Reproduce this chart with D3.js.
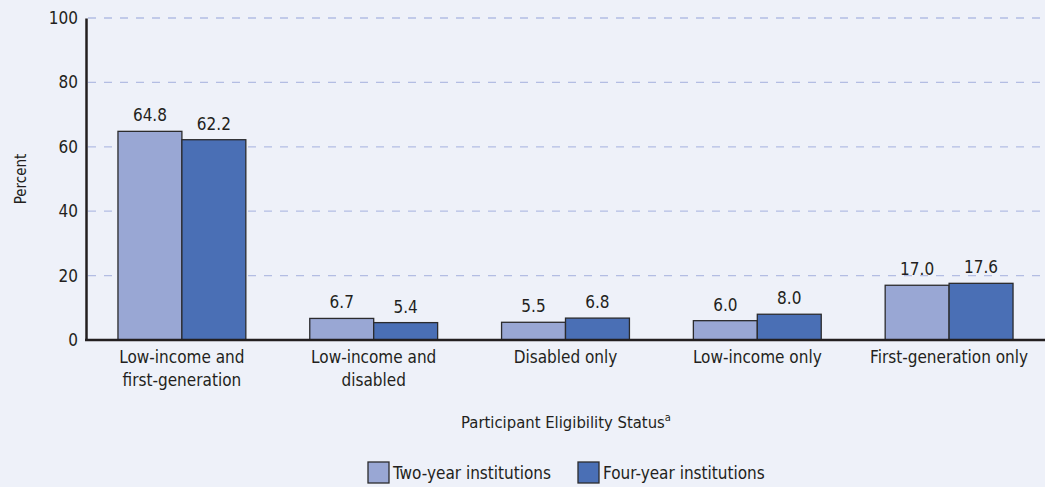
<!DOCTYPE html>
<html>
<head>
<meta charset="utf-8">
<script src="https://cdn.jsdelivr.net/npm/d3@7"></script>
<style>
  body { margin: 0; background: #eef1f9; }
  svg text { font-family: "Liberation Sans Narrow", "DejaVu Sans Condensed", "Roboto Condensed", sans-serif; fill: #231f20; }
</style>
</head>
<body>
<div id="chart"></div>
<script>
// chart data
var categories = [["Low-income and", "first-generation"], ["Low-income and", "disabled"], ["Disabled only"], ["Low-income only"], ["First-generation only"]];
var seriesNames = ["Two-year institutions", "Four-year institutions"];
var twoYear = [64.8, 6.7, 5.5, 6.0, 17.0];
var fourYear = [62.2, 5.4, 6.8, 8.0, 17.6];
var yTicks = [0, 20, 40, 60, 80, 100];
var colors = ["#99a7d4", "#4a6fb5"];

var width = 1045, height = 487;
var margin = {top: 18, right: 0, bottom: 147, left: 86};

var svg = d3.select("#chart").append("svg")
    .attr("width", width)
    .attr("height", height);

var x = d3.scaleBand()
    .domain(d3.range(categories.length))
    .range([margin.left, width])
    .paddingInner(0)
    .paddingOuter(0);

var x1 = d3.scaleBand()
    .domain([0, 1])
    .range([0, x.bandwidth()])
    .paddingOuter(0.5)
    .paddingInner(0);

var y = d3.scaleLinear()
    .domain([0, 100])
    .range([height - margin.bottom, margin.top]);

// dashed gridlines
svg.append("g").selectAll("line")
    .data(yTicks.filter(function (d) { return d > 0; }))
    .enter().append("line")
    .attr("x1", margin.left + 2)
    .attr("x2", width)
    .attr("y1", function (d) { return y(d); })
    .attr("y2", function (d) { return y(d); })
    .attr("stroke", "#b3bde3")
    .attr("stroke-width", 1.3)
    .attr("stroke-dasharray", "8,8");

// bars
var rows = categories.map(function (c, i) { return [twoYear[i], fourYear[i]]; });
var groups = svg.append("g").selectAll("g")
    .data(rows)
    .enter().append("g")
    .attr("transform", function (d, i) { return "translate(" + x(i) + ",0)"; });

groups.selectAll("rect")
    .data(function (d) { return d; })
    .enter().append("rect")
    .attr("x", function (d, j) { return x1(j); })
    .attr("y", function (d) { return y(d); })
    .attr("width", x1.bandwidth())
    .attr("height", function (d) { return y(0) - y(d); })
    .attr("fill", function (d, j) { return colors[j]; })
    .attr("stroke", "#2b2b2d")
    .attr("stroke-width", 1.3);

groups.selectAll("text.val")
    .data(function (d) { return d; })
    .enter().append("text")
    .attr("class", "val")
    .attr("x", function (d, j) { return x1(j) + x1.bandwidth() / 2; })
    .attr("y", function (d) { return y(d) - 10; })
    .attr("text-anchor", "middle")
    .attr("font-size", 17)
    .text(function (d) { return d.toFixed(1); });

// y axis
var yAxis = svg.append("g")
    .attr("transform", "translate(" + margin.left + ",0)")
    .call(d3.axisLeft(y).tickValues(yTicks).tickSize(0).tickPadding(8));
yAxis.select(".domain").attr("stroke", "#231f20").attr("stroke-width", 2.5);
yAxis.selectAll("text").attr("font-size", 17).attr("fill", "#231f20").attr("font-family", null);

// x axis
svg.append("line")
    .attr("x1", margin.left - 1)
    .attr("x2", width)
    .attr("y1", y(0))
    .attr("y2", y(0))
    .attr("stroke", "#231f20")
    .attr("stroke-width", 2.5);

var xl = svg.append("g").selectAll("text")
    .data(categories)
    .enter().append("text")
    .attr("x", function (d, i) { return x(i) + x.bandwidth() / 2; })
    .attr("y", y(0) + 23)
    .attr("text-anchor", "middle")
    .attr("font-size", 17);
xl.selectAll("tspan")
    .data(function (d) { return d; })
    .enter().append("tspan")
    .attr("x", function () { return d3.select(this.parentNode).attr("x"); })
    .attr("dy", function (d, k) { return k === 0 ? 0 : 23; })
    .text(function (d) { return d; });

// axis titles
svg.append("text")
    .attr("transform", "translate(26," + (margin.top + (y(0) - margin.top) / 2) + ") rotate(-90)")
    .attr("text-anchor", "middle")
    .attr("font-size", 15)
    .text("Percent");

var xt = svg.append("text")
    .attr("x", 566)
    .attr("y", 428)
    .attr("text-anchor", "middle")
    .attr("font-size", 16.5);
xt.append("tspan").text("Participant Eligibility Status");
xt.append("tspan").attr("font-size", 11).attr("dy", -7).text("a");

// legend
var legendX = [368, 578];
var legend = svg.append("g").selectAll("g")
    .data(seriesNames)
    .enter().append("g")
    .attr("transform", function (d, i) { return "translate(" + legendX[i] + ",462)"; });
legend.append("rect")
    .attr("width", 21)
    .attr("height", 21)
    .attr("fill", function (d, i) { return colors[i]; })
    .attr("stroke", "#2b2b2d")
    .attr("stroke-width", 1.3);
legend.append("text")
    .attr("x", 25)
    .attr("y", 17)
    .attr("font-size", 17)
    .text(function (d) { return d; });
</script>
</body>
</html>
